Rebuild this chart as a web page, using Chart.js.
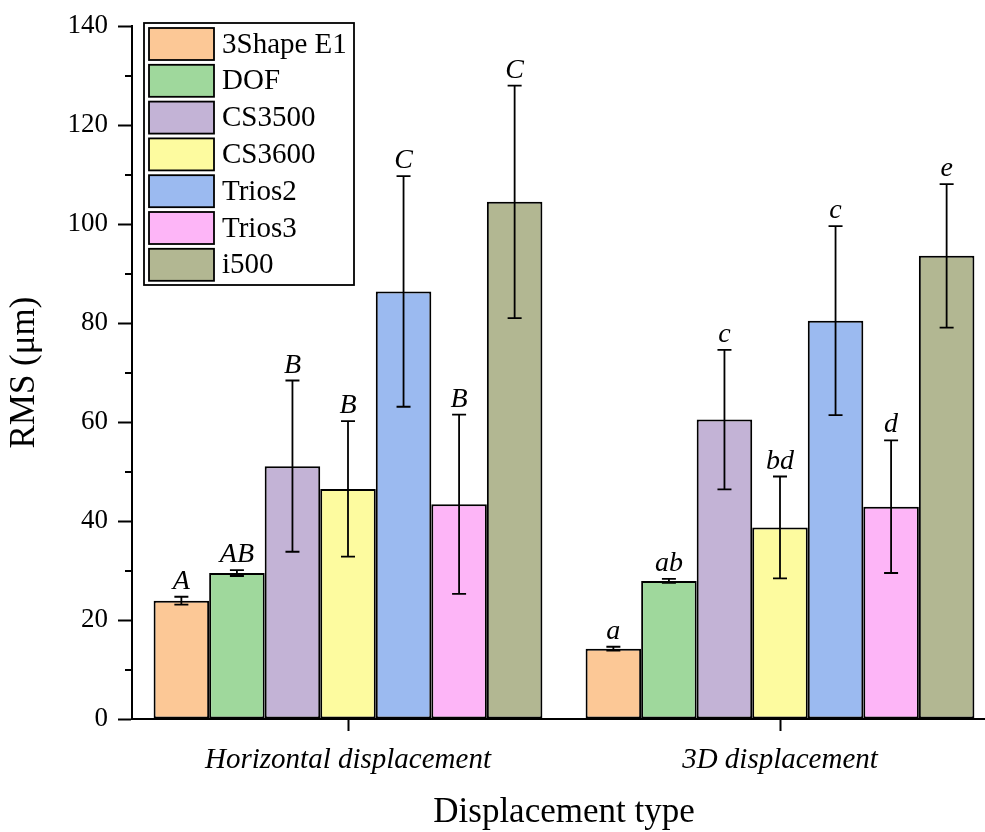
<!DOCTYPE html>
<html>
<head>
<meta charset="utf-8">
<script src="https://cdn.jsdelivr.net/npm/chart.js@4/dist/chart.umd.min.js"></script>
<style>
  html, body { margin: 0; padding: 0; background: #fff; }
  #frame { width: 985px; height: 832px; overflow: hidden; }
  #holder { width: 1000px; height: 832px; }
</style>
</head>
<body>
<div id="frame"><div id="holder"><canvas id="rms"></canvas></div></div>
<script>
const categories = ['Horizontal displacement', '3D displacement'];
const scanners = ['3Shape E1', 'DOF', 'CS3500', 'CS3600', 'Trios2', 'Trios3', 'i500'];

// mean RMS and SD per scanner, in scanner order
const horizontalMean = [23.9, 29.5, 51.1, 46.5, 86.4, 43.4, 104.5];
const horizontalSd = [0.8, 0.6, 17.3, 13.7, 23.3, 18.1, 23.5];
const threeDMean = [14.2, 27.9, 60.5, 38.7, 80.5, 42.9, 93.6];
const threeDSd = [0.4, 0.4, 14.1, 10.3, 19.1, 13.4, 14.5];

// significance letters
const horizontalLetters = ['A', 'AB', 'B', 'B', 'C', 'B', 'C'];
const threeDLetters = ['a', 'ab', 'c', 'bd', 'c', 'd', 'e'];

const colors = ['#fcc896', '#9fd89c', '#c3b3d6', '#fdfb9f', '#9bbaf0', '#fdb5f7', '#b2b792'];

const SERIF = "'Liberation Serif', 'Times New Roman', serif";
Chart.defaults.font.family = SERIF;
Chart.defaults.color = '#000';

var datasets = scanners.map((name, i) => ({
    label: name,
    data: [horizontalMean[i], threeDMean[i]],
    sd: [horizontalSd[i], threeDSd[i]],
    letters: [horizontalLetters[i], threeDLetters[i]],
    backgroundColor: colors[i],
    borderColor: '#000',
    borderWidth: 2,
    borderSkipped: false
}));

const errorBars = {
    id: 'errorBars',
    afterDatasetsDraw(chart) {
        const ctx = chart.ctx;
        const y = chart.scales.y;
        ctx.save();
        ctx.strokeStyle = '#000';
        ctx.lineWidth = 1.8;
        ctx.fillStyle = '#000';
        ctx.font = 'italic 28px ' + SERIF;
        ctx.textAlign = 'center';
        ctx.textBaseline = 'alphabetic';
        chart.data.datasets.forEach((ds, i) => {
            chart.getDatasetMeta(i).data.forEach((bar, j) => {
                const top = y.getPixelForValue(ds.data[j] + ds.sd[j]);
                const bot = y.getPixelForValue(ds.data[j] - ds.sd[j]);
                ctx.beginPath();
                ctx.moveTo(bar.x, top);
                ctx.lineTo(bar.x, bot);
                ctx.moveTo(bar.x - 7, top);
                ctx.lineTo(bar.x + 7, top);
                ctx.moveTo(bar.x - 7, bot);
                ctx.lineTo(bar.x + 7, bot);
                ctx.stroke();
                ctx.fillText(ds.letters[j], bar.x, top - 8);
            });
        });
        ctx.restore();
    }
};

const minorTicks = {
    id: 'minorTicks',
    afterDraw(chart) {
        const ctx = chart.ctx;
        const y = chart.scales.y;
        const left = chart.chartArea.left;
        ctx.save();
        ctx.strokeStyle = '#000';
        ctx.lineWidth = 2;
        for (let v = 10; v < 140; v += 20) {
            const py = Math.round(y.getPixelForValue(v));
            ctx.beginPath();
            ctx.moveTo(left - 7, py);
            ctx.lineTo(left, py);
            ctx.stroke();
        }
        ctx.restore();
    }
};

const legendBox = {
    id: 'legendBox',
    afterDraw(chart) {
        const ctx = chart.ctx;
        ctx.save();
        ctx.fillStyle = '#fff';
        ctx.fillRect(144, 23, 210, 262);
        ctx.strokeStyle = '#000';
        ctx.lineWidth = 1.8;
        ctx.strokeRect(144, 23, 210, 262);
        ctx.font = '29px ' + SERIF;
        ctx.textBaseline = 'middle';
        chart.data.datasets.forEach((ds, i) => {
            const top = 28 + i * 36.8;
            ctx.fillStyle = ds.backgroundColor;
            ctx.fillRect(149, top, 65, 32);
            ctx.strokeRect(149, top, 65, 32);
            ctx.fillStyle = '#000';
            ctx.fillText(ds.label, 222, top + 17);
        });
        ctx.restore();
    }
};

const config = {
    type: 'bar',
    data: {
        labels: categories,
        datasets: datasets
    },
    options: {
        responsive: true,
        maintainAspectRatio: false,
        animation: false,
        layout: {
            padding: {top: 25, right: 4, bottom: 0, left: 0}
        },
        datasets: {
            bar: {
                categoryPercentage: 0.9,
                barPercentage: 1.0
            }
        },
        scales: {
            x: {
                afterFit: function (scale) {
                    scale.height = 113;
                },
                grid: {
                    offset: false,
                    drawOnChartArea: false,
                    tickLength: 12,
                    tickWidth: 2,
                    tickColor: '#000'
                },
                border: {color: '#000', width: 2},
                ticks: {
                    padding: 12,
                    font: {size: 29, style: 'italic'}
                },
                title: {
                    display: true,
                    text: 'Displacement type',
                    padding: 0,
                    font: {size: 35, lineHeight: 1.1}
                }
            },
            y: {
                min: 0,
                max: 140,
                afterFit: function (scale) {
                    scale.width = 132;
                },
                grid: {
                    drawOnChartArea: false,
                    tickLength: 14,
                    tickWidth: 2,
                    tickColor: (c) => (c.tick && c.tick.value % 20 === 0) ? '#000' : 'rgba(0,0,0,0)'
                },
                border: {color: '#000', width: 2},
                ticks: {
                    stepSize: 10,
                    autoSkip: false,
                    padding: 10,
                    font: {size: 27},
                    callback: function (v) {
                        return v % 20 === 0 ? v : '';
                    }
                },
                title: {
                    display: true,
                    text: 'RMS (μm)',
                    padding: {top: 4, bottom: 0},
                    font: {size: 35}
                }
            }
        },
        plugins: {
            legend: {display: false},
            tooltip: {enabled: false}
        }
    },
    plugins: [errorBars, minorTicks, legendBox]
};

const graphic = new Chart(document.getElementById('rms'), config);
</script>
</body>
</html>
